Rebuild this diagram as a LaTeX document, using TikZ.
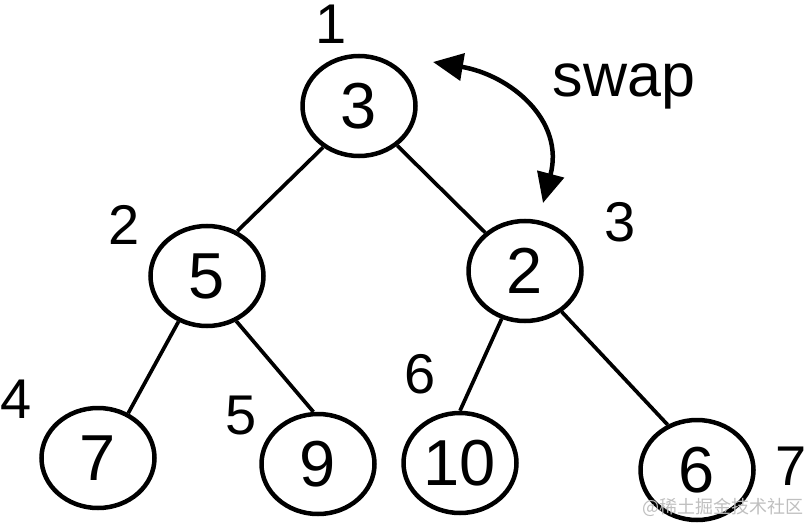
\documentclass[tikz,border=0pt]{standalone}
\usepackage{fontspec}
\setmainfont{Liberation Sans}
\newfontfamily\cjkfont{Noto Sans CJK SC}
\usetikzlibrary{shapes.geometric,arrows.meta}
\begin{document}
\begin{tikzpicture}[x=1pt,y=-1pt,
  heapnode/.style={draw, ellipse, line width=4.5pt, minimum width=113pt, minimum height=100pt, inner sep=0pt, font=\fontsize{65}{65}\selectfont},
  idxlabel/.style={inner sep=0pt, font=\fontsize{56}{56}\selectfont},
  treeedge/.style={line width=3.7pt},
  swaparrow/.style={line width=4.5pt, {Triangle[length=30pt,width=27pt]}-{Triangle[length=30pt,width=27pt]}}]
\useasboundingbox (0,0) rectangle (808,524);
% nodes
\node[heapnode] (root) at (359,106) {3};
\node[heapnode] (n5) at (207,276) {5};
\node[heapnode] (n2) at (525,271) {2};
\node[heapnode] (n7) at (98,458) {7};
\node[heapnode] (n9) at (318,464) {9};
\node[heapnode] (n10) at (460,463) {10};
\node[heapnode] (n6) at (697,470) {6};
% edges
\draw[treeedge] (root.229) -- (n5.56);
\draw[treeedge] (root.-46) -- (n2.136);
\draw[treeedge] (n5.-122) -- (n7.56);
\draw[treeedge] (n5.-57) -- (n9.95);
\draw[treeedge] (n2.-116) -- (n10.90);
\draw[treeedge] (n2.-48) -- (n6.123);
% index labels
\node[idxlabel] (l1) at (331,24) {1};
\node[idxlabel] (l2) at (124,225) {2};
\node[idxlabel] (l3) at (620,222) {3};
\node[idxlabel] (l4) at (16,399) {4};
\node[idxlabel] (l5) at (241,416) {5};
\node[idxlabel] (l6) at (420,374) {6};
\node[idxlabel] (l7) at (791,466) {7};
% swap arrow
\coordinate (sa) at (433,62);
\coordinate (sb) at (543,203);
\draw[swaparrow] (sa) .. controls (510,75) and (565,120) .. (sb);
\node[inner sep=0pt, anchor=base, font=\fontsize{61}{61}\selectfont] (swap) at (624,97) {swap};
% watermark
\node[inner sep=0pt, text=gray!50, font=\cjkfont\fontsize{18}{18}\selectfont] (wm) at (723,507) {@稀土掘金技术社区};
\end{tikzpicture}
\end{document}
